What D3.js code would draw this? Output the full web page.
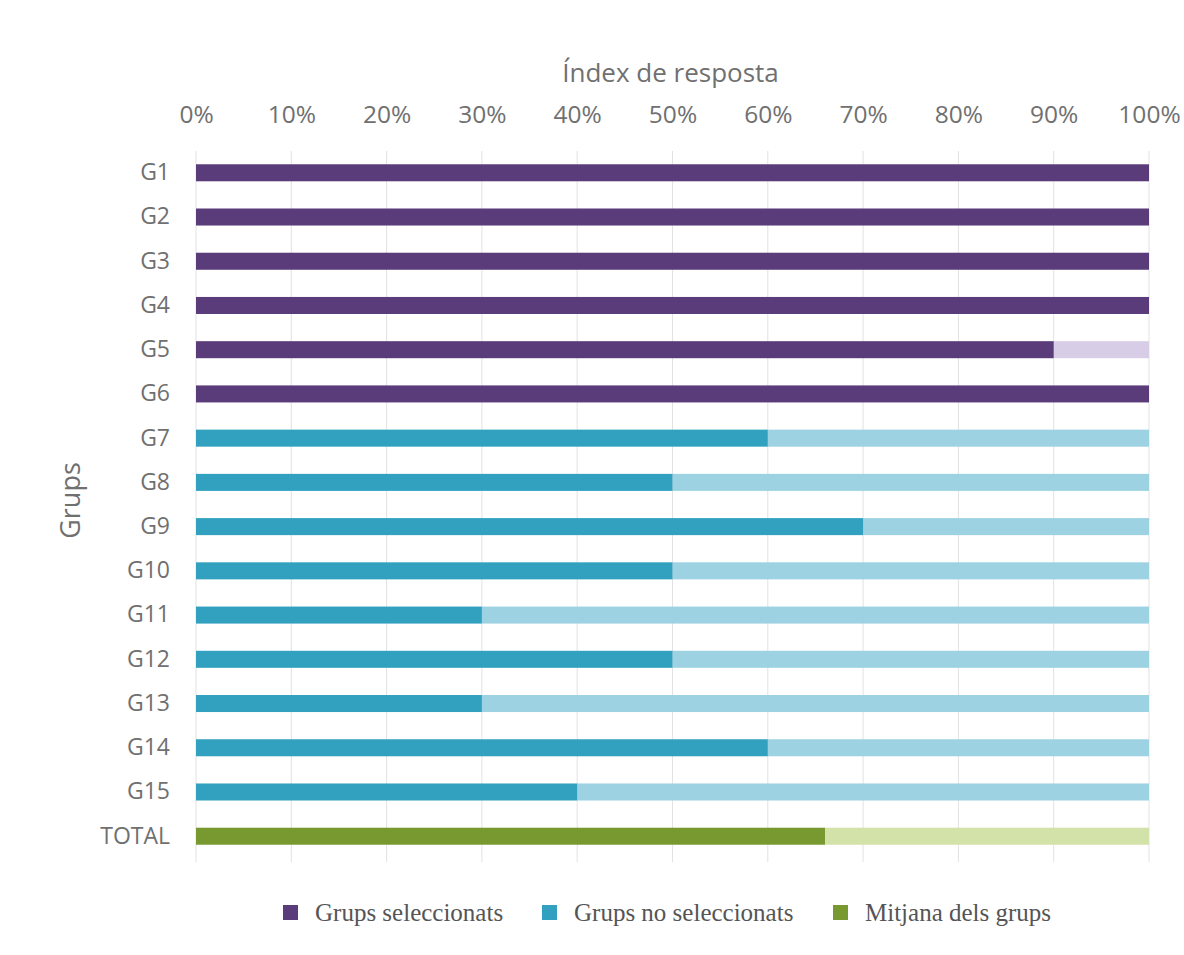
<!DOCTYPE html>
<html>
<head>
<meta charset="utf-8">
<script src="https://cdn.jsdelivr.net/npm/d3@7"></script>
<style>
  html, body { margin: 0; padding: 0; background: #fff; }
  svg { display: block; }
</style>
</head>
<body>
<svg id="chart" width="1184" height="955"></svg>
<script>
// Response rate per group (%), with group type
const groups = ["G1","G2","G3","G4","G5","G6","G7","G8","G9","G10","G11","G12","G13","G14","G15","TOTAL"];
const values = [100,100,100,100,90,100,60,50,70,50,30,50,30,60,40,66];
const kinds  = ["sel","sel","sel","sel","sel","sel","nosel","nosel","nosel","nosel","nosel","nosel","nosel","nosel","nosel","avg"];
const tickValues = [0,10,20,30,40,50,60,70,80,90,100];
const legendLabels = ["Grups seleccionats","Grups no seleccionats","Mitjana dels grups"];
const legendKinds = ["sel","nosel","avg"];

const dark  = { sel: "#5a3c7b", nosel: "#32a0bf", avg: "#77992f" };
const light = { sel: "#d8cde6", nosel: "#9cd2e1", avg: "#d3e2a8" };

const sans = "'Open Sans', sans-serif";
const textGrey = "#707070";

const svg = d3.select("#chart");
const plotLeft = 196, plotRight = 1149, plotTop = 151, plotBottom = 858;

const x = d3.scaleLinear().domain([0, 100]).range([plotLeft, plotRight]);
const y = d3.scaleBand().domain(groups).range([plotTop, plotBottom]).paddingInner(0.615).paddingOuter(0.3);

// vertical gridlines
svg.append("g").selectAll("line").data(tickValues).join("line")
  .attr("x1", d => x(d)).attr("x2", d => x(d))
  .attr("y1", plotTop).attr("y2", plotBottom + 4)
  .attr("stroke", "#e2e2e2").attr("stroke-width", 1);

// top axis
const xAxis = d3.axisTop(x).tickValues(tickValues).tickFormat(d => d + "%").tickSize(0).tickPadding(0);
const gx = svg.append("g").attr("transform", `translate(0,${123})`).call(xAxis);
gx.select(".domain").remove();
gx.selectAll("text").attr("font-family", sans).attr("font-size", 24.5).attr("fill", textGrey).attr("dy", 0);

// left axis
const yAxis = d3.axisLeft(y).tickSize(0).tickPadding(0);
const gy = svg.append("g").attr("transform", `translate(${170},0)`).call(yAxis);
gy.select(".domain").remove();
gy.selectAll("text").attr("font-family", sans).attr("font-size", 23).attr("fill", textGrey);

const rows = groups.map((g, i) => ({ g, v: values[i], k: kinds[i] }));

// remainder (to 100%) in the light tint
svg.append("g").selectAll("rect").data(rows).join("rect")
  .attr("x", d => x(d.v)).attr("y", d => y(d.g))
  .attr("width", d => x(100) - x(d.v)).attr("height", y.bandwidth())
  .attr("fill", d => light[d.k]);

// response rate bars
svg.append("g").selectAll("rect").data(rows).join("rect")
  .attr("x", x(0)).attr("y", d => y(d.g))
  .attr("width", d => x(d.v) - x(0)).attr("height", y.bandwidth())
  .attr("fill", d => dark[d.k]);

// axis titles
svg.append("text").attr("x", (plotLeft + plotRight) / 2 - 2).attr("y", 82)
  .attr("text-anchor", "middle")
  .attr("font-family", sans).attr("font-size", 26).attr("fill", textGrey)
  .text("Índex de resposta");

svg.append("text").attr("transform", `translate(80,${(plotTop + plotBottom) / 2 - 4}) rotate(-90)`)
  .attr("text-anchor", "middle")
  .attr("font-family", sans).attr("font-size", 27).attr("fill", textGrey)
  .text("Grups");

// legend
const legendX = [283, 542, 833];
const lg = svg.append("g").selectAll("g").data(legendLabels).join("g")
  .attr("transform", (d, i) => `translate(${legendX[i]},${905})`);
lg.append("rect").attr("width", 15).attr("height", 15)
  .attr("fill", (d, i) => dark[legendKinds[i]]);
lg.append("text").attr("x", 32).attr("y", 16)
  .attr("font-family", "'Liberation Serif', 'Times New Roman', serif").attr("font-size", 25).attr("fill", "#555")
  .text(d => d);
</script>
</body>
</html>
